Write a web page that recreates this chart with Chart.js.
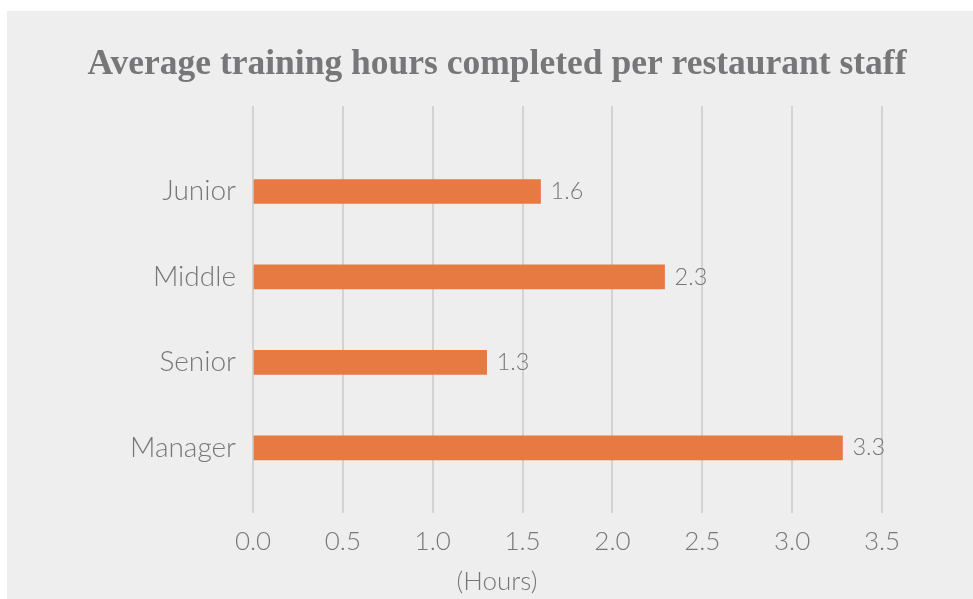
<!DOCTYPE html>
<html>
<head>
<meta charset="utf-8">
<script src="https://cdn.jsdelivr.net/npm/chart.js@4"></script>
<style>
  body { margin: 0; background: #ffffff; }
  #panel { position: absolute; left: 7px; top: 11px; width: 966px; height: 588px; background: #eeeeee; }
</style>
</head>
<body>
<div id="panel"><canvas id="myChart" width="966" height="588"></canvas></div>
<script>
const categories = ['Junior', 'Middle', 'Senior', 'Manager'];
const hours = [1.6, 2.29, 1.3, 3.28];
const xTicks = [0, 0.5, 1, 1.5, 2, 2.5, 3, 3.5];
const chartTitle = 'Average training hours completed per restaurant staff';
const unitLabel = '(Hours)';

const textGray = '#77777a';

// bar values, title and unit caption drawn on top of the chart
const labelsPlugin = {
    id: 'labels',
    afterDraw(chart) {
        const ctx = chart.ctx;
        const meta = chart.getDatasetMeta(0);
        ctx.save();
        ctx.fillStyle = textGray;
        ctx.textBaseline = 'middle';
        ctx.textAlign = 'left';
        ctx.font = '300 23.5px Lato';
        meta.data.forEach((bar, i) => {
            ctx.fillText(hours[i].toFixed(1), bar.x + 10, bar.y);
        });

        ctx.textAlign = 'center';
        ctx.font = 'bold 35.5px "Liberation Serif"';
        ctx.fillText(chartTitle, 490, 54);
        ctx.font = '300 26px Lato';
        ctx.fillText(unitLabel, 490, 571);
        ctx.restore();
    }
};

document.addEventListener('DOMContentLoaded', function () {
    const ctx = document.getElementById('myChart').getContext('2d');
    new Chart(ctx, {
        type: 'bar',
        data: {
            datasets: [{
                data: hours.map((v, i) => ({ x: v, y: i })),
                backgroundColor: '#e67a42',
                barThickness: 24,
            }]
        },
        options: {
            indexAxis: 'y',
            responsive: false,
            animation: false,
            layout: { padding: { top: 95, right: 91, left: 0, bottom: 29 } },
            plugins: {
                legend: { display: false },
                tooltip: { enabled: false },
            },
            scales: {
                x: {
                    type: 'linear',
                    min: 0,
                    max: 3.5,
                    afterBuildTicks: (scale) => { scale.ticks = xTicks.map(v => ({ value: v })); },
                    ticks: {
                        color: textGray,
                        font: { family: 'Lato', size: 26, weight: '300' },
                        padding: 13,
                        callback: (v) => Number(v).toFixed(1),
                        maxRotation: 0,
                    },
                    grid: { color: '#d3d3d3', lineWidth: 2, drawTicks: false },
                    border: { display: false },
                },
                y: {
                    type: 'linear',
                    reverse: true,
                    offset: false,
                    min: -1,
                    max: 3.76,
                    afterBuildTicks: (scale) => { scale.ticks = categories.map((c, i) => ({ value: i })); },
                    afterFit: (scale) => { scale.width = 246; },
                    ticks: {
                        color: textGray,
                        font: { family: 'Lato', size: 28, weight: '300' },
                        padding: 9,
                        callback: (v) => categories[v],
                    },
                    grid: { display: false },
                    border: { display: false },
                }
            }
        },
        plugins: [labelsPlugin]
    });
});
</script>
</body>
</html>
